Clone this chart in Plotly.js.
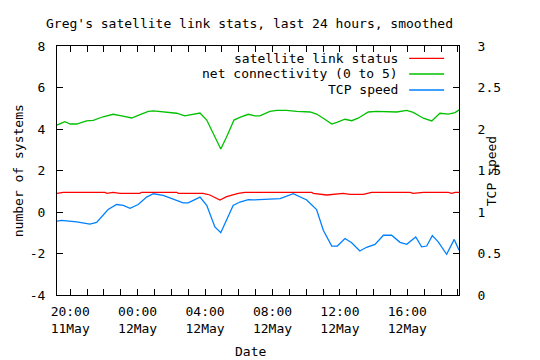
<!DOCTYPE html>
<html>
<head>
<meta charset="utf-8">
<script src="https://cdn.plot.ly/plotly-3.0.1.min.js"></script>
<style>html,body{margin:0;padding:0;background:#fff;}#chart{width:540px;height:360px;}</style>
</head>
<body>
<div id="chart"></div>
<script>
// ---- data ----
const seriesNames = ['satellite link status', 'net connectivity (0 to 5)', 'TCP speed'];

const satTimes = ['2009-05-11 19:13','2009-05-11 19:35','2009-05-11 22:04','2009-05-11 22:10','2009-05-11 22:33','2009-05-11 22:57',
  '2009-05-12 00:08','2009-05-12 00:14','2009-05-12 02:19','2009-05-12 02:25','2009-05-12 03:53','2009-05-12 04:17',
  '2009-05-12 04:53','2009-05-12 05:17','2009-05-12 05:58','2009-05-12 06:22','2009-05-12 10:20','2009-05-12 10:25',
  '2009-05-12 11:13','2009-05-12 11:49','2009-05-12 12:12','2009-05-12 12:36','2009-05-12 13:23','2009-05-12 13:53',
  '2009-05-12 16:10','2009-05-12 16:21','2009-05-12 16:57','2009-05-12 18:26','2009-05-12 18:38','2009-05-12 18:50','2009-05-12 19:04'];
const satValues = [0.90,0.95,0.95,0.90,0.95,0.90,
  0.90,0.95,0.95,0.90,0.90,0.82,
  0.58,0.74,0.90,0.95,0.95,0.90,
  0.82,0.87,0.90,0.85,0.85,0.95,
  0.95,0.90,0.95,0.95,0.90,0.95,0.95];

const netTimes = ['2009-05-11 19:13','2009-05-11 19:41','2009-05-11 20:00','2009-05-11 20:23','2009-05-11 20:58','2009-05-11 21:22',
  '2009-05-11 21:57','2009-05-11 22:33','2009-05-11 23:03','2009-05-11 23:39','2009-05-12 00:02','2009-05-12 00:38',
  '2009-05-12 00:56','2009-05-12 01:43','2009-05-12 02:19','2009-05-12 02:48','2009-05-12 03:18','2009-05-12 03:42',
  '2009-05-12 04:06','2009-05-12 04:29','2009-05-12 04:56','2009-05-12 05:17','2009-05-12 05:43','2009-05-12 06:04',
  '2009-05-12 06:34','2009-05-12 06:58','2009-05-12 07:15','2009-05-12 07:51','2009-05-12 08:15','2009-05-12 08:50',
  '2009-05-12 09:26','2009-05-12 10:14','2009-05-12 10:37','2009-05-12 11:01','2009-05-12 11:31','2009-05-12 11:49',
  '2009-05-12 12:18','2009-05-12 12:42','2009-05-12 13:05','2009-05-12 13:41','2009-05-12 14:11','2009-05-12 15:22',
  '2009-05-12 15:58','2009-05-12 16:21','2009-05-12 16:57','2009-05-12 17:27','2009-05-12 17:44','2009-05-12 17:56',
  '2009-05-12 18:26','2009-05-12 18:50','2009-05-12 19:04'];
const netValues = [4.19,4.35,4.24,4.24,4.39,4.42,
  4.59,4.71,4.63,4.53,4.66,4.85,
  4.87,4.82,4.76,4.63,4.69,4.77,
  4.43,3.79,3.04,3.63,4.43,4.56,
  4.71,4.63,4.63,4.85,4.90,4.90,
  4.85,4.82,4.72,4.52,4.24,4.32,
  4.47,4.40,4.52,4.82,4.85,4.82,
  4.90,4.80,4.52,4.39,4.63,4.76,
  4.72,4.79,4.92];

const tcpTimes = ['2009-05-11 19:13','2009-05-11 19:29','2009-05-11 20:23','2009-05-11 21:10','2009-05-11 21:34','2009-05-11 22:15',
  '2009-05-11 22:45','2009-05-11 23:09','2009-05-11 23:33','2009-05-12 00:02','2009-05-12 00:32','2009-05-12 00:56',
  '2009-05-12 01:31','2009-05-12 02:07','2009-05-12 02:42','2009-05-12 03:00','2009-05-12 03:42','2009-05-12 04:06',
  '2009-05-12 04:35','2009-05-12 04:56','2009-05-12 05:11','2009-05-12 05:40','2009-05-12 06:04','2009-05-12 06:34',
  '2009-05-12 06:52','2009-05-12 07:39','2009-05-12 08:27','2009-05-12 09:14','2009-05-12 10:02','2009-05-12 10:37',
  '2009-05-12 11:01','2009-05-12 11:31','2009-05-12 11:51','2009-05-12 12:18','2009-05-12 12:42','2009-05-12 13:11',
  '2009-05-12 13:35','2009-05-12 14:05','2009-05-12 14:35','2009-05-12 15:04','2009-05-12 15:34','2009-05-12 15:58',
  '2009-05-12 16:30','2009-05-12 16:51','2009-05-12 17:09','2009-05-12 17:29','2009-05-12 17:50','2009-05-12 18:20',
  '2009-05-12 18:47','2009-05-12 19:04'];
const tcpValues = [0.89,0.90,0.88,0.855,0.875,1.03,
  1.09,1.08,1.045,1.09,1.18,1.22,
  1.20,1.15,1.11,1.11,1.18,1.08,
  0.82,0.75,0.86,1.08,1.12,1.15,
  1.145,1.15,1.16,1.22,1.145,1.03,
  0.78,0.59,0.59,0.68,0.63,0.53,
  0.575,0.61,0.72,0.72,0.635,0.61,
  0.70,0.58,0.59,0.715,0.64,0.49,
  0.67,0.54];

const leftTickVals = [-4, -2, 0, 2, 4, 6, 8];
const leftTickText = ['-4', '-2', '0', '2', '4', '6', '8'];
const xRange = ['2009-05-11 19:13', '2009-05-12 19:04'];
const colors = ['#ff0000', '#00c000', '#0080ff'];

// ---- plot ----
const FONT = 'DejaVu Sans Mono';
const traces = [
  {x: satTimes, y: satValues, name: seriesNames[0], mode: 'lines', line: {color: colors[0], width: 1.3}, yaxis: 'y'},
  {x: netTimes, y: netValues, name: seriesNames[1], mode: 'lines', line: {color: colors[1], width: 1.3}, yaxis: 'y'},
  {x: tcpTimes, y: tcpValues, name: seriesNames[2], mode: 'lines', line: {color: colors[2], width: 1.3}, yaxis: 'y2'}
];

// legend in gnuplot style: right-aligned text, sample to the right
const legRowsY = [0.9506, 0.8876, 0.8233];
const annotations = seriesNames.map((n, i) => ({
  text: n, xref: 'paper', yref: 'paper', x: 0.853, y: legRowsY[i],
  xanchor: 'right', yanchor: 'middle', showarrow: false,
  font: {family: FONT, size: 13, color: '#000'}
}));
const shapes = seriesNames.map((n, i) => ({
  type: 'line', xref: 'paper', yref: 'paper', x0: 0.876, x1: 0.963, y0: legRowsY[i], y1: legRowsY[i],
  line: {color: colors[i], width: 1.3}
}));
annotations.push(
  {text: 'number of systems', xref: 'paper', yref: 'paper', x: (18 - 57) / 402, y: 0.497, textangle: -90,
   xanchor: 'center', yanchor: 'middle', showarrow: false, font: {family: FONT, size: 13, color: '#000'}},
  {text: 'TCP speed', xref: 'paper', yref: 'paper', x: (491 - 57) / 402, y: 0.497, textangle: -90,
   xanchor: 'center', yanchor: 'middle', showarrow: false, font: {family: FONT, size: 13, color: '#000'}},
  {text: 'Date', xref: 'paper', yref: 'paper', x: (250 - 57) / 402, y: (295 - 351) / 249,
   xanchor: 'center', yanchor: 'middle', showarrow: false, font: {family: FONT, size: 13, color: '#000'}}
);

const layout = {
  width: 540, height: 360,
  margin: {l: 57, r: 81, t: 46, b: 65, pad: 0},
  paper_bgcolor: '#fff', plot_bgcolor: '#fff',
  font: {family: FONT, size: 13, color: '#000'},
  showlegend: false,
  title: {text: "Greg's satellite link stats, last 24 hours, smoothed", font: {family: FONT, size: 13, color: '#000'},
          xref: 'container', yref: 'container', x: 249.5 / 540, y: 1 - 23 / 360, xanchor: 'center', yanchor: 'middle'},
  xaxis: {
    type: 'date', range: xRange, showline: true, linecolor: '#000', linewidth: 1, mirror: 'allticks',
    ticks: 'inside', ticklen: 6, tickcolor: '#000', tickwidth: 1,
    tick0: '2009-05-11 00:00', dtick: 14400000, tickformat: '%H:%M<br>%d%b',
    showgrid: false, zeroline: false, ticklabelstandoff: 4,
    minor: {dtick: 3600000, ticks: 'inside', ticklen: 3, tickcolor: '#000', showgrid: false}
  },
  yaxis: {
    range: [-4, 8], tickvals: leftTickVals, ticktext: leftTickText,
    showline: true, linecolor: '#000', linewidth: 1, mirror: true,
    ticks: 'inside', ticklen: 6, tickcolor: '#000', showgrid: false, zeroline: false, ticklabelstandoff: 8
  },
  yaxis2: {
    overlaying: 'y', side: 'right', range: [0, 3], dtick: 0.5, tick0: 0,
    showline: true, linecolor: '#000', linewidth: 1,
    ticks: 'inside', ticklen: 6, tickcolor: '#000', showgrid: false, zeroline: false, ticklabelstandoff: 15
  },
  annotations: annotations,
  shapes: shapes
};

Plotly.newPlot('chart', traces, layout, {staticPlot: true, displayModeBar: false});
</script>
</body>
</html>
